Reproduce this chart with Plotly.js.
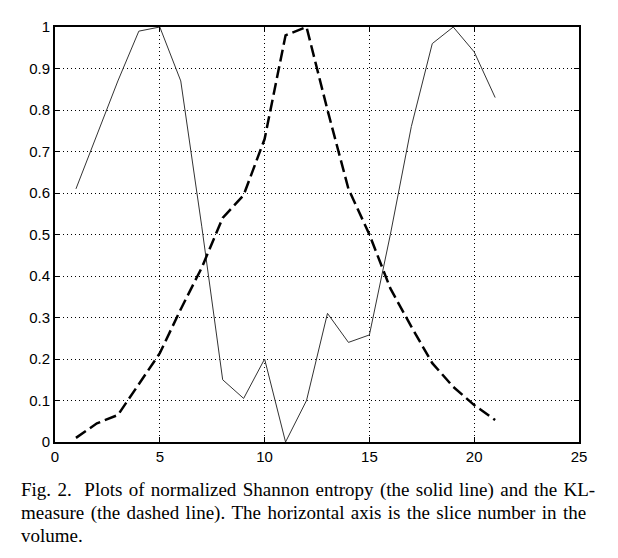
<!DOCTYPE html>
<html>
<head>
<meta charset="utf-8">
<script src="https://cdn.plot.ly/plotly-3.0.1.min.js"></script>
<style>
  html, body { margin: 0; padding: 0; background: #fff; }
  #plot { width: 618px; height: 558px; }
</style>
</head>
<body>
<div id="plot"></div>
<script>
// slice numbers and the two normalized measures
const slices = [1, 2, 3, 4, 5, 6, 7, 8, 9, 10, 11, 12, 13, 14, 15, 16, 17, 18, 19, 20, 21];
const entropy = [0.61, 0.74, 0.87, 0.99, 1.0, 0.87, 0.52, 0.15, 0.105, 0.20, 0.0,
                 0.10, 0.31, 0.24, 0.258, 0.50, 0.76, 0.96, 1.0, 0.94, 0.83];
const klMeasure = [0.01, 0.045, 0.065, 0.14, 0.214, 0.32, 0.42, 0.54, 0.595, 0.73, 0.98,
                   1.0, 0.80, 0.61, 0.50, 0.37, 0.278, 0.19, 0.133, 0.089, 0.053];

const captionLines = [
  'Fig. 2.  Plots of normalized Shannon entropy (the solid line) and the KL-',
  'measure (the dashed line). The horizontal axis is the slice number in the',
  'volume.'
];
// extra hair spaces per word gap, to imitate the justified caption
const captionPad = [1, 1, 0];

const gd = document.getElementById('plot');

const data = [
  {
    x: slices,
    y: entropy,
    type: 'scatter',
    mode: 'lines',
    name: 'Shannon entropy',
    line: { color: '#333', width: 1 }
  },
  {
    x: slices,
    y: klMeasure,
    type: 'scatter',
    mode: 'lines',
    name: 'KL-measure',
    line: { color: '#000', width: 2.5, dash: '12px,5px' }
  }
];

const axisStyle = {
  showline: true,
  linecolor: '#000',
  linewidth: 2,
  mirror: 'ticks',
  ticks: 'inside',
  ticklen: 5,
  tickcolor: '#000',
  showgrid: true,
  gridcolor: '#000',
  gridwidth: 1,
  griddash: '1px,3px',
  zeroline: false,
  tickfont: { family: 'Liberation Sans, Arial, sans-serif', size: 15, color: '#000' }
};

// caption sits below the axes, one annotation per line
const plotW = 618 - 55 - 39, plotH = 558 - 27 - 116;
const captionY = [490, 513, 535];
const annotations = captionLines.map((t, i) => ({
  text: captionPad[i] ? t.split(' ').join(' ' + '&#8202;'.repeat(captionPad[i])) : t,
  xref: 'paper', yref: 'paper',
  x: (19 - 55) / plotW,
  y: (442 - captionY[i]) / plotH,
  xanchor: 'left', yanchor: 'middle',
  showarrow: false,
  font: { family: 'Liberation Serif, Times New Roman, serif', size: 19, color: '#000' }
}));

const layout = {
  width: 618,
  height: 558,
  paper_bgcolor: '#fff',
  plot_bgcolor: '#fff',
  showlegend: false,
  margin: { l: 55, r: 39, t: 27, b: 116 },
  xaxis: Object.assign({}, axisStyle, { range: [0, 25], dtick: 5, tick0: 0 }),
  yaxis: Object.assign({}, axisStyle, { range: [0, 1], dtick: 0.1, tick0: 0 }),
  annotations: annotations
};

Plotly.newPlot(gd, data, layout, { staticPlot: true });
</script>
</body>
</html>
